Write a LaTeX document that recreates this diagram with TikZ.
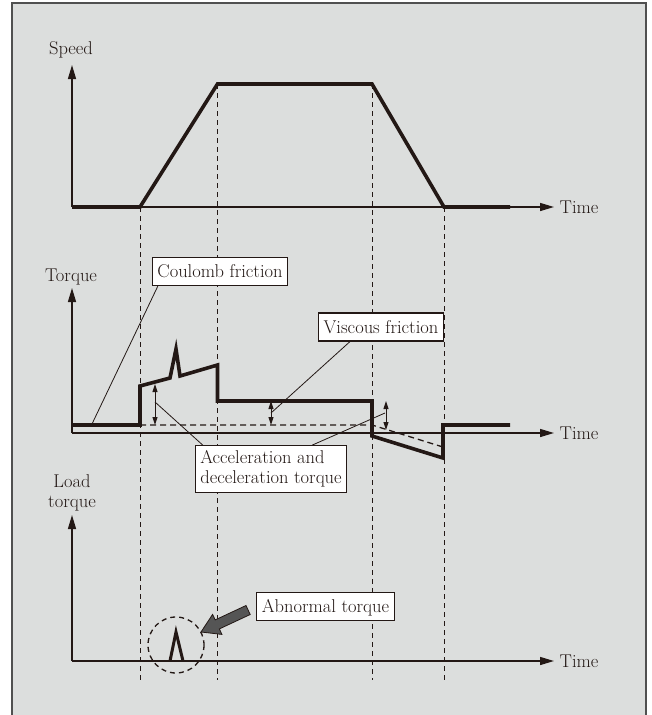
\documentclass[tikz,border=0pt]{standalone}
\usepackage{fontspec}
\usetikzlibrary{arrows.meta,calc}

\definecolor{panel}{HTML}{DCDEDD}
\definecolor{rim}{HTML}{505050}
\definecolor{ink}{HTML}{231815}
\definecolor{pointer}{HTML}{555555}

\begin{document}
\begin{tikzpicture}[x=1pt,y=-1pt,
  every node/.style={font=\fontsize{18.5pt}{20pt}\selectfont,text=ink},
  axis/.style={draw=ink,line width=1.4pt,-{Triangle[length=14pt,width=8pt]}},
  curve/.style={draw=ink,line width=3.6pt},
  guide/.style={draw=ink,line width=0.8pt,dash pattern=on 5pt off 4pt},
  level/.style={draw=ink,line width=1.3pt,dash pattern=on 6pt off 4pt},
  gap/.style={draw=ink,line width=1pt,{Triangle[length=8pt,width=5pt]}-{Triangle[length=8pt,width=5pt]}},
  leader/.style={draw=ink,line width=0.8pt},
  tag/.style={draw=ink,fill=white,line width=1.1pt,inner xsep=5pt,inner ysep=7pt,
    text height=13pt,text depth=1pt}]

\useasboundingbox (0,0) rectangle (651,715);
\fill[white] (0,0) rectangle (651,715);
\filldraw[fill=panel,draw=rim,line width=1.2pt] (12,3) rectangle (646,722);

\coordinate (o1) at (72,207);
\coordinate (o2) at (72,433);
\coordinate (o3) at (72,661);

\draw[guide] (140,207) -- (140,680);
\draw[guide] (217.5,84) -- (217.5,680);
\draw[guide] (372,84) -- (372,680);
\draw[guide] (444,207) -- (444,680);

\node (speed) at (71,50) {Speed};
\node (torque) at (71,277) {Torque};
\node[align=center,inner sep=0pt] (load) at (72,493) {Load\\torque};

\draw[axis] (o1) -- (72,65);
\draw[axis] (o1) -- (554,207) node[anchor=west,inner xsep=5pt] (t1) {Time};
\draw[axis] (o2) -- (72,288);
\draw[axis] (o2) -- (554,433) node[anchor=west,inner xsep=5pt] (t2) {Time};
\draw[axis] (o3) -- (72,515);
\draw[axis] (o3) -- (554,661) node[anchor=west,inner xsep=5pt] (t3) {Time};

\draw[curve] (72,207) -- (140,207) -- (217.5,84) -- (372,84) -- (444,207) -- (510,207);

\draw[level] (140,425) -- (372,425) -- (443,447);
\draw[curve] (72,425) -- (140,425) -- (140,386) -- (170,378) -- (176,349) -- (180,376)
  -- (217.5,365) -- (217.5,401) -- (372,401) -- (372,436) -- (443,458) -- (443,425) -- (510,425);

\draw[gap] (155,384) -- (155,425);
\draw[gap] (271,401) -- (271,425);
\draw[gap] (386,401) -- (386,430);

\draw[curve,line width=3pt,line join=miter] (170,661) -- (176,632) -- (183,661);
\draw[ink,line width=1.3pt,dash pattern=on 5pt off 4pt] (176,645) circle (28);

\node[tag] (coulomb) at (220,271.5) {Coulomb friction};
\node[tag] (viscous) at (381,327) {Viscous friction};
\node[tag,align=left,text height=,text depth=,inner ysep=5pt] (accel) at (271,469) {Acceleration and\\deceleration torque};
\node[tag] (abnormal) at (325.5,606.5) {Abnormal torque};

\coordinate (cpt) at (92,424);
\coordinate (vpt) at (271,413);
\coordinate (apt1) at (155,402);
\coordinate (apt2) at (385,413);

\draw[leader] (cpt) -- ([xshift=6pt]coulomb.south west);
\draw[leader] (vpt) -- ([xshift=-31pt]viscous.south);
\draw[leader] (apt1) -- ([xshift=8pt]accel.north west);
\draw[leader] (apt2) -- ([xshift=-35pt]accel.north east);

\filldraw[fill=pointer,draw=ink,line width=0.8pt]
  (201,632) -- (221.9,634.4) -- (219.4,628.9) -- (250.2,614.5)
  -- (246.0,605.5) -- (215.2,619.9) -- (212.6,614.4) -- cycle;

\end{tikzpicture}
\end{document}
